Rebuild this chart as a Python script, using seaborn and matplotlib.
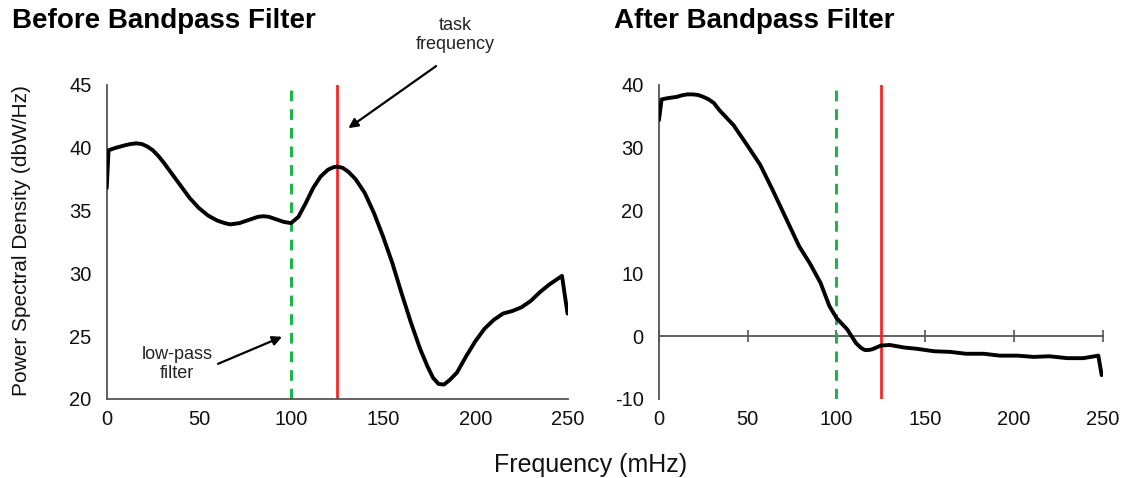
import matplotlib

matplotlib.use('Agg')
import matplotlib.pyplot as plt
import pandas as pd
import seaborn as sns

# spectrum before filtering
before_freq = [0, 1, 5, 10, 13, 16, 19, 22, 25, 28, 31, 35, 40, 45, 50, 55, 60, 64, 67, 72, 78,
               82, 85, 88, 92, 96, 100, 104, 108, 112, 116, 120, 123, 125, 128, 131, 135, 140,
               145, 150, 155, 160, 165, 170, 174, 177, 180, 183, 186, 190, 195, 200, 205, 210,
               215, 220, 225, 230, 235, 240, 244, 247, 250]
before_psd = [36.8, 39.8, 40.0, 40.2, 40.3, 40.35, 40.3, 40.1, 39.8, 39.35, 38.8, 38.0, 37.0,
              36.0, 35.2, 34.6, 34.2, 34.0, 33.9, 34.0, 34.3, 34.5, 34.55, 34.5, 34.3, 34.1,
              34.0, 34.5, 35.6, 36.8, 37.7, 38.25, 38.45, 38.5, 38.4, 38.1, 37.5, 36.4, 34.8,
              32.9, 30.8, 28.4, 26.1, 24.0, 22.6, 21.7, 21.2, 21.15, 21.5, 22.1, 23.4, 24.6,
              25.6, 26.3, 26.8, 27.0, 27.3, 27.8, 28.5, 29.1, 29.5, 29.8, 26.8]

# spectrum after filtering
after_freq = [0, 1.5, 5, 10, 13, 16, 19, 22, 25, 28, 31, 34, 42, 49, 57, 64, 72, 79, 85, 91, 96,
              100, 106, 111, 114, 116, 118, 120, 125, 130, 138, 145, 155, 164, 173, 183, 192,
              202, 211, 220, 230, 239, 247.5, 249.4]
after_psd = [34.4, 37.7, 37.9, 38.1, 38.35, 38.5, 38.5, 38.4, 38.1, 37.7, 37.1, 36.0, 33.6, 30.7,
             27.3, 23.3, 18.5, 14.3, 11.6, 8.5, 4.8, 2.9, 1.1, -1.1, -1.9, -2.2, -2.2, -2.1,
             -1.5, -1.4, -1.8, -2.0, -2.4, -2.5, -2.8, -2.8, -3.1, -3.1, -3.3, -3.2, -3.5,
             -3.5, -3.1, -6.2]

lowpass_cutoff = 100
task_freq = 125

sns.set_theme(style='white')
plt.rcParams['font.family'] = ['Liberation Sans', 'DejaVu Sans']
plt.rcParams['axes.unicode_minus'] = False

spine_color = '#555555'
green = '#1fb34c'
red = '#ff1a1a'
tick_size = 14.5

fig = plt.figure(figsize=(11.33, 4.78), dpi=100)
ax_l = fig.add_axes([0.0942, 0.1653, 0.4067, 0.657])
ax_r = fig.add_axes([0.5816, 0.1653, 0.3917, 0.657])

df_before = pd.DataFrame({'freq': before_freq, 'psd': before_psd})
df_after = pd.DataFrame({'freq': after_freq, 'psd': after_psd})

for ax, df in ((ax_l, df_before), (ax_r, df_after)):
    ax.axvline(lowpass_cutoff, color=green, lw=2.2, ls=(0, (3.5, 2.6)), zorder=2)
    ax.axvline(task_freq, color=red, lw=1.9, zorder=2)
    sns.lineplot(data=df, x='freq', y='psd', ax=ax, color='black', lw=2.8, zorder=3,
                 solid_joinstyle='round', solid_capstyle='round')
    ax.set_xlim(0, 250)
    ax.set_xticks([0, 50, 100, 150, 200, 250])
    ax.set_xlabel('')
    ax.set_ylabel('')
    for side in ('top', 'right'):
        ax.spines[side].set_visible(False)
    for side in ('left', 'bottom'):
        ax.spines[side].set_color(spine_color)
        ax.spines[side].set_linewidth(1.3)
    ax.tick_params(direction='in', length=5, width=1.2, color=spine_color,
                   labelsize=tick_size, labelcolor='#111111')
    ax.tick_params(axis='y', pad=11)
    ax.tick_params(axis='x', pad=8)

ax_l.set_ylim(20, 45)
ax_l.set_yticks([20, 25, 30, 35, 40, 45])

ax_r.set_ylim(-10, 40)
ax_r.set_yticks([-10, 0, 10, 20, 30, 40])
ax_r.spines['bottom'].set_visible(False)
ax_r.tick_params(axis='x', length=0)
zero_axis = ax_r.secondary_xaxis(10 / 50)
zero_axis.set_xticks([0, 50, 100, 150, 200, 250])
zero_axis.set_xticklabels([])
zero_axis.spines['bottom'].set_color(spine_color)
zero_axis.spines['bottom'].set_linewidth(1.3)
zero_axis.tick_params(direction='inout', length=9, width=1.2, color=spine_color)

# annotations on the left panel
ax_l.text(189, 49.0, 'task\nfrequency', ha='center', va='center', fontsize=13,
          color='#222222', linespacing=1.15, clip_on=False)
ax_l.annotate('', xy=(131.1, 41.56), xytext=(178.7, 46.5), annotation_clip=False,
              arrowprops=dict(arrowstyle='-|>', color='black', lw=1.6, mutation_scale=14,
                              shrinkA=0, shrinkB=0))
ax_l.text(38.1, 22.8, 'low-pass\nfilter', ha='center', va='center', fontsize=13,
          color='#222222', linespacing=1.15)
ax_l.annotate('', xy=(95.1, 24.95), xytext=(60.4, 22.8),
              arrowprops=dict(arrowstyle='-|>', color='black', lw=1.6, mutation_scale=14,
                              shrinkA=0, shrinkB=0))

fig.text(12 / 1133, 1 - 21 / 478, 'Before Bandpass Filter', fontsize=20, fontweight='bold',
         ha='left', va='center', color='black')
fig.text(614 / 1133, 1 - 21 / 478, 'After Bandpass Filter', fontsize=20, fontweight='bold',
         ha='left', va='center', color='black')
fig.text(22 / 1133, 1 - 241 / 478, 'Power Spectral Density (dbW/Hz)', fontsize=15,
         rotation=90, ha='center', va='center', color='#111111')
fig.text(591 / 1133, 1 - 465 / 478, 'Frequency (mHz)', fontsize=18,
         ha='center', va='center', color='#111111')

fig.savefig('out.png', dpi=100)
plt.close(fig)
